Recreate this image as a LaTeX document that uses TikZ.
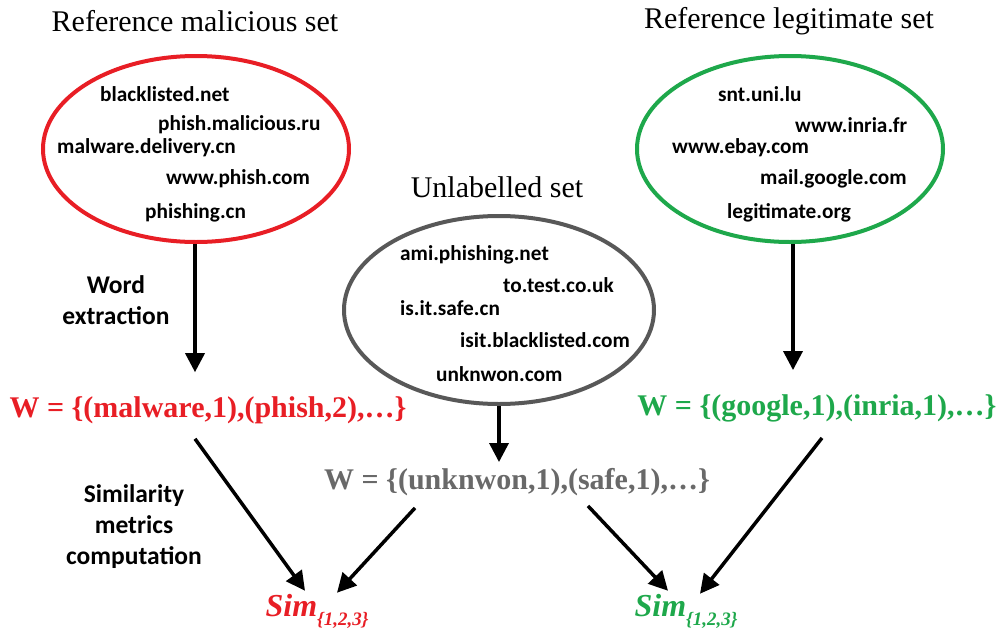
\documentclass[tikz,border=0pt]{standalone}
\usepackage{fontspec}
\setmainfont{Liberation Serif}
\newfontfamily\calibri{Carlito}
\usetikzlibrary{shapes.geometric,arrows.meta}

\definecolor{malred}{RGB}{232,30,37}
\definecolor{legitgreen}{RGB}{30,168,75}
\definecolor{unlgray}{RGB}{88,88,88}
\definecolor{wgray}{RGB}{105,105,105}

\newcommand{\simsub}{Sim\raisebox{-9pt}{\fontsize{19}{20}\selectfont\{1,2,3\}}}

\tikzset{
    settitle/.style={font=\fontsize{30}{33}\selectfont, inner sep=0pt},
    setbox/.style={ellipse, draw, line width=4pt, minimum width=306pt, minimum height=186pt, inner sep=0pt},
    url/.style={anchor=west, font=\calibri\bfseries\fontsize{21.3}{24}\selectfont, inner sep=0pt},
    steplabel/.style={align=center, font=\calibri\bfseries\fontsize{25.5}{31}\selectfont, inner sep=0pt},
    wordset/.style={font=\bfseries\fontsize{30}{33}\selectfont, inner sep=0pt},
    simlabel/.style={font=\bfseries\itshape\fontsize{32}{34}\selectfont, inner sep=0pt},
    arr/.style={line width=3.5pt, -{Triangle[length=19pt, width=19pt]}}
}

\begin{document}
\begin{tikzpicture}[x=1pt, y=-1pt]
        \useasboundingbox (0,0) rectangle (999,637);

        % titles
        \node[settitle] (tmal) at (195,21) {Reference malicious set};
        \node[settitle] (tleg) at (789,21) {Reference legitimate set};
        \node[settitle] (tunl) at (497,187) {Unlabelled set};

        % the three sets
        \node[setbox, malred] (mal) at (196,149) {};
        \node[setbox, legitgreen] (leg) at (790,149) {};
        \node[setbox, unlgray, minimum width=310pt, minimum height=188pt] (unl) at (499,310) {};

        \node[url] (m1) at (100,94) {blacklisted.net};
        \node[url] (m2) at (158,125) {phish.malicious.ru};
        \node[url] (m3) at (57,148) {malware.delivery.cn};
        \node[url] (m4) at (166,179) {www.phish.com};
        \node[url] (m5) at (145,213) {phishing.cn};

        \node[url] (l1) at (718,94) {snt.uni.lu};
        \node[url] (l2) at (795,125) {www.inria.fr};
        \node[url] (l3) at (672,148) {www.ebay.com};
        \node[url] (l4) at (760,179) {mail.google.com};
        \node[url] (l5) at (727,213) {legitimate.org};

        \node[url] (u1) at (400,255) {ami.phishing.net};
        \node[url] (u2) at (503,285) {to.test.co.uk};
        \node[url] (u3) at (400,308) {is.it.safe.cn};
        \node[url] (u4) at (460,340) {isit.blacklisted.com};
        \node[url] (u5) at (436,374) {unknwon.com};

        % word sets
        \node[wordset, malred] (wmal) at (208,410) {W = \{(malware,1),(phish,2),\ldots\}};
        \node[wordset, legitgreen] (wleg) at (817,408) {W = \{(google,1),(inria,1),\ldots\}};
        \node[wordset, wgray] (wunl) at (517,482) {W = \{(unknwon,1),(safe,1),\ldots\}};

        \node[steplabel] (extract) at (116,300) {Word\\extraction};
        \node[steplabel] (simcomp) at (134,527) {Similarity\\metrics\\computation};

        % similarity results
        \node[simlabel, malred] (simmal) at (317,611) {\simsub};
        \node[simlabel, legitgreen] (simleg) at (686,611) {\simsub};

        \draw[arr] ([xshift=-1pt]mal.south) -- ([xshift=-1pt, yshift=24pt]mal.south |- wmal.north);
        \draw[arr] ([xshift=3pt]leg.south) -- ([xshift=3pt, yshift=24pt]leg.south |- wleg.north);
        \draw[arr] (unl.south) -- ([yshift=6pt]unl.south |- wunl.north);

        \draw[arr] ([xshift=-13pt, yshift=-15pt]wmal.south) -- ([xshift=-12pt, yshift=3pt]simmal.north);
        \draw[arr] ([xshift=-102pt, yshift=-12pt]wunl.south) -- ([xshift=20pt, yshift=1pt]simmal.north);
        \draw[arr] ([xshift=71pt, yshift=-10pt]wunl.south) -- ([xshift=-18pt, yshift=3pt]simleg.north);
        \draw[arr] ([xshift=5pt, yshift=-16pt]wleg.south) -- ([xshift=14pt, yshift=0pt]simleg.north);
\end{tikzpicture}
\end{document}
